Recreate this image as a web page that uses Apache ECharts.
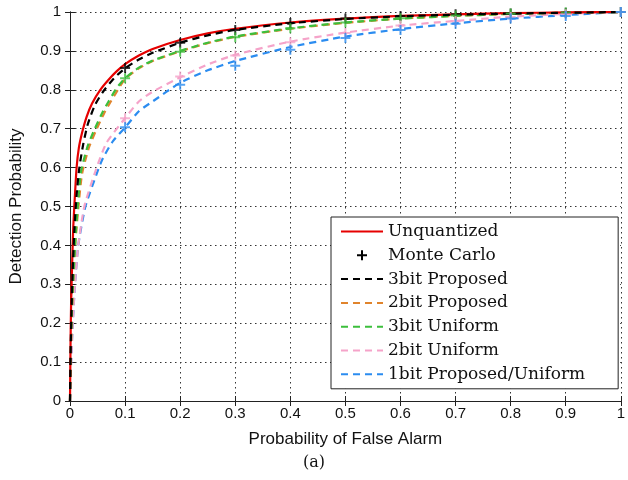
<!DOCTYPE html>
<html>
<head>
<meta charset="utf-8">
<script src="https://cdn.jsdelivr.net/npm/echarts@6/dist/echarts.min.js"></script>
<style>
  html, body { margin: 0; padding: 0; background: #fff; }
  #chart { width: 628px; height: 480px; }
</style>
</head>
<body>
<div id="chart"></div>
<script>
// ROC curves: [Pfa, Pd]
const unquantized = [[0,0],[0.001,0.15],[0.002,0.25],[0.004,0.36],[0.006,0.45],[0.009,0.53],[0.012,0.6],[0.016,0.65],[0.022,0.69],[0.03,0.73],[0.04,0.765],[0.055,0.8],[0.07,0.826],[0.085,0.848],[0.1,0.866],[0.125,0.888],[0.15,0.905],[0.2,0.928],[0.25,0.945],[0.3,0.957],[0.4,0.973],[0.5,0.983],[0.6,0.99],[0.7,0.994],[0.8,0.997],[0.9,0.999],[1,1]];
const proposed3 = [[0,0],[0.001,0.12],[0.003,0.25],[0.005,0.34],[0.008,0.44],[0.012,0.53],[0.017,0.6],[0.024,0.66],[0.032,0.71],[0.045,0.76],[0.06,0.795],[0.08,0.83],[0.1,0.855],[0.125,0.878],[0.15,0.895],[0.2,0.921],[0.25,0.94],[0.3,0.954],[0.4,0.971],[0.5,0.982],[0.6,0.989],[0.7,0.993],[0.8,0.996],[0.9,0.998],[1,1]];
const proposed2 = [[0,0],[0.001,0.09],[0.003,0.21],[0.006,0.31],[0.01,0.41],[0.016,0.51],[0.022,0.585],[0.034,0.65],[0.047,0.695],[0.062,0.74],[0.072,0.765],[0.087,0.8],[0.1,0.828],[0.125,0.855],[0.15,0.874],[0.2,0.899],[0.25,0.92],[0.3,0.936],[0.4,0.957],[0.5,0.972],[0.6,0.983],[0.7,0.99],[0.8,0.995],[0.9,0.998],[1,1]];
const uniform3 = [[0,0],[0.001,0.1],[0.003,0.22],[0.006,0.32],[0.01,0.42],[0.015,0.52],[0.02,0.59],[0.032,0.655],[0.045,0.7],[0.06,0.745],[0.07,0.77],[0.085,0.805],[0.1,0.83],[0.125,0.857],[0.15,0.875],[0.2,0.9],[0.25,0.921],[0.3,0.937],[0.4,0.958],[0.5,0.973],[0.6,0.983],[0.7,0.99],[0.8,0.995],[0.9,0.998],[1,1]];
const uniform2 = [[0,0],[0.002,0.1],[0.005,0.2],[0.009,0.3],[0.015,0.4],[0.026,0.5],[0.046,0.59],[0.066,0.663],[0.1,0.727],[0.125,0.77],[0.15,0.795],[0.2,0.832],[0.25,0.865],[0.3,0.89],[0.4,0.924],[0.5,0.947],[0.6,0.965],[0.7,0.977],[0.8,0.988],[0.9,0.995],[1,1]];
const bit1 = [[0,0],[0.002,0.1],[0.005,0.2],[0.009,0.3],[0.015,0.4],[0.028,0.5],[0.05,0.59],[0.06,0.625],[0.078,0.668],[0.1,0.703],[0.125,0.745],[0.15,0.77],[0.2,0.818],[0.25,0.85],[0.3,0.874],[0.4,0.91],[0.5,0.937],[0.6,0.956],[0.7,0.971],[0.8,0.983],[0.9,0.992],[1,1]];

// Monte Carlo points at Pfa = 0.1 ... 1
const mcPfa = [0.1, 0.2, 0.3, 0.4, 0.5, 0.6, 0.7, 0.8, 0.9, 1];
const mcProposed3 = [0.856, 0.921, 0.954, 0.972, 0.983, 0.99, 0.994, 0.996, 0.998, 1];
const mcUniform3 = [0.83, 0.898, 0.935, 0.958, 0.973, 0.984, 0.991, 0.996, 0.999, 1];
const mcUniform2 = [0.727, 0.834, 0.888, 0.922, 0.946, 0.965, 0.977, 0.987, 0.994, 1];
const mcBit1 = [0.704, 0.813, 0.862, 0.903, 0.933, 0.954, 0.97, 0.983, 0.99, 1];

const colors = {
  red: '#e60000',
  black: '#000000',
  orange: '#e0842c',
  green: '#3cbf3c',
  pink: '#f5a3c9',
  blue: '#2b8cf0'
};

const plusPath = 'path://M4,0h2v4h4v2h-4v4h-2v-4h-4v-2h4z';

const chart = echarts.init(document.getElementById('chart'));

function dashed(name, data, color, z) {
  return {
    name: name,
    type: 'line',
    data: data,
    symbol: 'none',
    smooth: 0.2,
    z: z,
    color: color,
    lineStyle: { color: color, width: 2.2, type: [7, 5] }
  };
}

const mcData = [];
[[mcProposed3, colors.black], [mcUniform3, colors.green], [mcUniform2, colors.pink], [mcBit1, colors.blue]].forEach(([vals, c]) => {
  vals.forEach((v, i) => mcData.push({ value: [mcPfa[i], v], itemStyle: { color: c } }));
});

const sansFont = 'Liberation Sans';
const serifFont = 'DejaVu Serif';

const axisCommon = {
  min: 0,
  max: 1,
  interval: 0.1,
  axisLine: { show: true, lineStyle: { color: '#222', width: 1 } },
  axisTick: { show: true, inside: true, length: 5, lineStyle: { color: '#222' } },
  splitLine: { show: false }
};

const gridDots = { show: true, lineStyle: { color: '#333', width: 1, type: [1.5, 3.5] } };

const option = {
  animation: false,
  backgroundColor: '#fff',
  title: {
    text: '(a)',
    left: 'center',
    top: 450,
    textStyle: { fontFamily: serifFont, fontWeight: 'normal', fontSize: 16, color: '#111' }
  },
  grid: { left: 69, right: 6, top: 12, bottom: 79 },
  legend: {
    orient: 'vertical',
    left: 331,
    top: 217,
    padding: [6, 33, 6, 9],
    itemWidth: 42,
    itemHeight: 10,
    itemGap: 6.8,
    backgroundColor: '#fff',
    borderColor: '#222',
    borderWidth: 1,
    borderRadius: 0,
    itemStyle: { opacity: 0 },
    textStyle: { fontFamily: serifFont, fontSize: 17, color: '#111' },
    data: [
      'Unquantized',
      { name: 'Monte Carlo', itemStyle: { opacity: 1 } },
      '3bit Proposed', '2bit Proposed', '3bit Uniform', '2bit Uniform', '1bit Proposed/Uniform'
    ]
  },
  xAxis: [
    Object.assign({}, axisCommon, {
      type: 'value',
      position: 'bottom',
      name: 'Probability of False Alarm',
      nameLocation: 'middle',
      nameGap: 30,
      nameTextStyle: { fontFamily: sansFont, fontSize: 17, color: '#111' },
      axisLabel: { fontFamily: sansFont, fontSize: 15, color: '#111', margin: 5 },
      splitLine: gridDots
    }),
    Object.assign({}, axisCommon, {
      type: 'value',
      position: 'top',
      axisLabel: { show: false }
    })
  ],
  yAxis: [
    Object.assign({}, axisCommon, {
      type: 'value',
      position: 'left',
      name: 'Detection Probability',
      nameLocation: 'middle',
      nameGap: 45,
      nameTextStyle: { fontFamily: sansFont, fontSize: 17, color: '#111' },
      axisLabel: { fontFamily: sansFont, fontSize: 15, color: '#111', margin: 9 },
      splitLine: gridDots
    }),
    Object.assign({}, axisCommon, {
      type: 'value',
      position: 'right',
      axisLabel: { show: false }
    })
  ],
  series: [
    dashed('1bit Proposed/Uniform', bit1, colors.blue, 2),
    dashed('2bit Uniform', uniform2, colors.pink, 3),
    dashed('2bit Proposed', proposed2, colors.orange, 4),
    dashed('3bit Uniform', uniform3, colors.green, 5),
    {
      name: 'Unquantized',
      type: 'line',
      data: unquantized,
      symbol: 'none',
      smooth: 0.2,
      z: 6,
      color: colors.red,
      lineStyle: { color: colors.red, width: 2.2 }
    },
    dashed('3bit Proposed', proposed3, colors.black, 7),
    {
      name: 'Monte Carlo',
      type: 'scatter',
      data: mcData,
      symbol: plusPath,
      symbolSize: 10,
      z: 8,
      color: colors.black,
      itemStyle: { color: colors.black }
    }
  ]
};

chart.setOption(option);
</script>
</body>
</html>
